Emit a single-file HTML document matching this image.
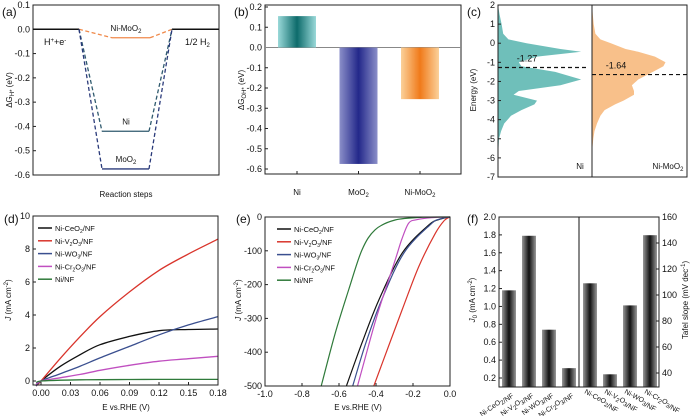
<!DOCTYPE html>
<html><head><meta charset="utf-8">
<style>
html,body{margin:0;padding:0;background:#fff;}
svg{display:block;font-family:"Liberation Sans",sans-serif;}
text{fill:#111;}
</style></head>
<body>
<svg id="fig" width="693" height="416" viewBox="0 0 693 416" xmlns="http://www.w3.org/2000/svg">
<defs>
<linearGradient id="gTeal" x1="0" x2="1"><stop offset="0" stop-color="#9ad9d9"/><stop offset="0.5" stop-color="#0d6b6b"/><stop offset="1" stop-color="#9ad9d9"/></linearGradient>
<linearGradient id="gBlue" x1="0" x2="1"><stop offset="0" stop-color="#8b8fc9"/><stop offset="0.5" stop-color="#23288a"/><stop offset="1" stop-color="#8b8fc9"/></linearGradient>
<linearGradient id="gOrange" x1="0" x2="1"><stop offset="0" stop-color="#fbd19a"/><stop offset="0.5" stop-color="#f07a1a"/><stop offset="1" stop-color="#fbd19a"/></linearGradient>
<linearGradient id="gGray" x1="0" x2="1"><stop offset="0" stop-color="#999"/><stop offset="0.5" stop-color="#111"/><stop offset="1" stop-color="#999"/></linearGradient>
</defs>
</svg>
<script>
// ---------- data ----------
const aSpecies = ["Ni-MoO2","Ni","MoO2"];
const aValues = [-0.035,-0.42,-0.575];
const aTicks = [0.1,0.0,-0.1,-0.2,-0.3,-0.4,-0.5,-0.6];
const bCategories = ["Ni","MoO2","Ni-MoO2"];
const bValues = [0.155,-0.575,-0.255];
const bTicks = [0.2,0.1,0.0,-0.1,-0.2,-0.3,-0.4,-0.5,-0.6];
const cEnergy = [2,1.5,1,0.5,0.2,0,-0.3,-0.45,-0.7,-1.0,-1.2,-1.5,-1.9,-2.2,-2.5,-2.7,-3.0,-3.2,-3.5,-3.8,-4.2,-4.6,-5,-5.5,-6,-7];
const cNiDos = [0,3,7,10,20,55,120,160,75,40,45,110,160,120,40,30,75,70,45,25,12,6,2,1,0,0];
const cNiMoDos = [0,2,4,8,20,45,80,110,150,175,170,145,110,95,100,100,75,55,30,20,12,6,3,1,0,0];
const cCenters = [-1.27,-1.64];
const cTicks = [2,1,0,-1,-2,-3,-4,-5,-6,-7];
const dSeries = ["Ni-CeO2/NF","Ni-V2O3/NF","Ni-WO3/NF","Ni-Cr2O3/NF","Ni/NF"];
const dColors = ["#111","#d9342b","#3a4f8f","#c04fc0","#2f7a3a"];
const dX = [-0.005,0,0.02,0.04,0.06,0.09,0.12,0.15,0.18];
const dCeO = [-0.3,0,0.9,1.6,2.2,2.7,3.05,3.12,3.15];
const dV2O3 = [-0.3,0,1.4,2.7,3.9,5.4,6.7,7.7,8.6];
const dWO3 = [-0.3,0,0.45,0.9,1.4,2.1,2.8,3.4,3.9];
const dCr2O3 = [-0.2,0,0.2,0.4,0.65,0.95,1.2,1.35,1.5];
const dNi = [-0.1,0,0.05,0.07,0.08,0.09,0.1,0.1,0.1];
const dTicksX = [0.00,0.03,0.06,0.09,0.12,0.15,0.18];
const dTicksY = [0,2,4,6,8,10];
const eCeOX = [0,-0.05,-0.115,-0.259,-0.385,-0.476,-0.56];
const eCeOY = [0,-6,-24,-107,-246,-373,-500];
const eV2O3X = [0,-0.03,-0.079,-0.169,-0.259,-0.412];
const eV2O3Y = [0,-10,-48,-147,-275,-500];
const eWO3X = [0,-0.05,-0.105,-0.25,-0.37,-0.455,-0.526];
const eWO3Y = [0,-5,-22,-107,-246,-373,-500];
const eCr2O3X = [0,-0.1,-0.18,-0.223,-0.26,-0.296,-0.385,-0.44,-0.5];
const eCr2O3Y = [0,-2,-8,-18,-65,-127,-275,-380,-500];
const eNiX = [0,-0.15,-0.297,-0.405,-0.476,-0.548,-0.62,-0.696];
const eNiY = [0,-1,-9,-38,-98,-216,-343,-500];
const eTicksX = [-1.0,-0.8,-0.6,-0.4,-0.2,0.0];
const eTicksY = [0,-100,-200,-300,-400,-500];
const fLabels = ["Ni-CeO2/NF","Ni-V2O3/NF","Ni-WO3/NF","Ni-Cr2O3/NF"];
const fJ0 = [1.18,1.79,0.74,0.31];
const fTafel = [109,39,92,146];
const fTicksL = [0.2,0.4,0.6,0.8,1.0,1.2,1.4,1.6,1.8,2.0];
const fTicksR = [40,60,80,100,120,140,160];

// ---------- helpers ----------
const svg=document.getElementById('fig');
const NS="http://www.w3.org/2000/svg";
function el(tag,attrs,parent){const e=document.createElementNS(NS,tag);for(const k in attrs)e.setAttribute(k,attrs[k]);(parent||svg).appendChild(e);return e;}
function txt(s,x,y,opt,parent){opt=opt||{};const t=el('text',{x:x,y:y,'font-size':opt.fs||9,'text-anchor':opt.a||'middle'},parent);if(opt.rot)t.setAttribute('transform','rotate('+opt.rot+' '+x+' '+y+')');t.innerHTML=s;return t;}
function lin(d0,d1,r0,r1){return v=>r0+(v-d0)*(r1-r0)/(d1-d0);}
function fmt(v,n){return v.toFixed(n);}
function sub(s){return s.replace(/O(\d)/g,'O<tspan font-size="6" dy="2">$1</tspan><tspan dy="-2"></tspan>').replace(/([VC]r?)(\d)O/g,'$1<tspan font-size="6" dy="2">$2</tspan><tspan dy="-2">O</tspan>');}
function box(x0,y0,x1,y1,g){el('rect',{x:x0,y:y0,width:x1-x0,height:y1-y0,fill:'none',stroke:'#222','stroke-width':1},g);}
function yAxis(g,ticks,sy,x,dec,right){ticks.forEach(t=>{const y=sy(t);el('line',{x1:x,x2:right?x-3:x+3,y1:y,y2:y,stroke:'#222'},g);txt(fmt(t,dec),right?x+3:x-3,y+3,{a:right?'start':'end'},g);});}
function xAxis(g,ticks,sx,y,dec){ticks.forEach(t=>{const x=sx(t);el('line',{x1:x,x2:x,y1:y,y2:y-3,stroke:'#222'},g);txt(fmt(t,dec),x,y+11,{},g);});}
function linePath(xs,ys,sx,sy){let d='';xs.forEach((x,i)=>{if(ys[i]===null)return;d+=(d?'L':'M')+sx(x).toFixed(1)+','+sy(ys[i]).toFixed(1);});return d;}
function smoothPath(xs,ys,sx,sy){const P=xs.map((x,i)=>[sx(x),sy(ys[i])]);let d='M'+P[0][0].toFixed(1)+','+P[0][1].toFixed(1);
 for(let i=0;i<P.length-1;i++){const p0=P[Math.max(0,i-1)],p1=P[i],p2=P[i+1],p3=P[Math.min(P.length-1,i+2)];
 const c1=[p1[0]+(p2[0]-p0[0])/6,p1[1]+(p2[1]-p0[1])/6],c2=[p2[0]-(p3[0]-p1[0])/6,p2[1]-(p3[1]-p1[1])/6];
 d+='C'+c1.map(v=>v.toFixed(1))+' '+c2.map(v=>v.toFixed(1))+' '+p2.map(v=>v.toFixed(1));}return d;}

// ---------- (a) ----------
{const g=el('g',{});
const sy=lin(0.1,-0.6,5,175);const X0=33,X1=219;
box(X0,sy(0.1),X1,sy(-0.6),g);
yAxis(g,aTicks,sy,X0,1);
txt('(a)',2,16,{a:'start',fs:12},g);
txt('ΔG<tspan font-size="6" dy="2">H*</tspan><tspan dy="-2"> (eV)</tspan>',12,90,{rot:-90,fs:8},g);
txt('Reaction steps',126,197,{fs:8},g);
el('line',{x1:X0,x2:79,y1:sy(0),y2:sy(0),stroke:'#111','stroke-width':1.5},g);
el('line',{x1:172,x2:X1,y1:sy(0),y2:sy(0),stroke:'#111','stroke-width':1.5},g);
txt('H<tspan font-size="6" dy="-3">+</tspan><tspan dy="3">+e</tspan><tspan font-size="6" dy="-3">-</tspan>',44,45,{a:'start',fs:9},g);
txt('1/2 H<tspan font-size="6" dy="2">2</tspan>',185,45,{a:'start',fs:9},g);
const cols=['#f08a4b','#2f5a6e','#2a3a7a'];
aValues.forEach((v,i)=>{const y=sy(v);const xl=i===0?112:102,xr=i===0?150:149;
 const l=el('line',{x1:xl,x2:xr,y1:y,y2:y,stroke:cols[i],'stroke-width':1.3},g);
 el('path',{d:'M79,'+sy(0)+'L'+xl+','+y+'M'+xr+','+y+'L172,'+sy(0),fill:'none',stroke:cols[i],'stroke-width':1.3,'stroke-dasharray':'4,2.5'},g);
 txt(sub(aSpecies[i]),126,y-7,{fs:8},g);});
}

// ---------- (b) ----------
{const g=el('g',{});
const sy=lin(0.2,-0.6,7,169);const X0=265,X1=461;
box(X0,5,X1,174,g);yAxis(g,bTicks,sy,X0,1);
txt('(b)',234,16,{a:'start',fs:12},g);
txt('ΔG<tspan font-size="6" dy="2">OH*</tspan><tspan dy="-2"> (eV)</tspan>',244,90,{rot:-90,fs:8},g);
el('line',{x1:X0,x2:X1,y1:sy(0),y2:sy(0),stroke:'#888'},g);
const fills=['url(#gTeal)','url(#gBlue)','url(#gOrange)'];
const sx=i=>297+i*61.5;
bValues.forEach((v,i)=>{const y0=sy(0),y1=sy(v);const r=el('rect',{x:sx(i)-19,y:Math.min(y0,y1),width:38,height:Math.abs(y1-y0),fill:fills[i]},g);
 
 el('line',{x1:sx(i),x2:sx(i),y1:174,y2:171,stroke:'#222'},g);
 txt(sub(bCategories[i]),sx(i),195,{fs:8},g);});
}

// ---------- (c) ----------
{const g=el('g',{});
const sy=lin(2,-7,5,177);const X0=498,XM=592,X1=687;
txt('(c)',467,16,{a:'start',fs:12},g);
txt('Energy (eV)',476,90,{rot:-90,fs:8},g);
const sl=d=>X0+d*0.52, sr=d=>XM+d*0.42;
function area(xs,fx,col,x0){let d='M'+x0+','+sy(cEnergy[0]);cEnergy.forEach((e,i)=>{d+='L'+fx(xs[i]).toFixed(1)+','+sy(e).toFixed(1);});d+='L'+x0+','+sy(-7)+'Z';return el('path',{d:d,fill:col,stroke:'none'},g);}
const a1=area(cNiDos,sl,'#6fbfba',X0);
const a2=area(cNiMoDos,sr,'#f8c08a',XM);
box(X0,5,X1,177,g);el('line',{x1:XM,x2:XM,y1:5,y2:177,stroke:'#222'},g);
yAxis(g,cTicks,sy,X0,0);
el('line',{x1:X0,x2:589,y1:sy(cCenters[0]),y2:sy(cCenters[0]),stroke:'#111','stroke-dasharray':'4,3','stroke-width':1.2},g);
el('line',{x1:XM,x2:X1,y1:sy(cCenters[1]),y2:sy(cCenters[1]),stroke:'#111','stroke-dasharray':'4,3','stroke-width':1.2},g);
txt(cCenters[0].toFixed(2),527,sy(cCenters[0])-6,{fs:9},g);
txt(cCenters[1].toFixed(2),616,sy(cCenters[1])-6,{fs:9},g);
txt('Ni',580,169,{fs:8},g);txt('Ni-MoO<tspan font-size="6" dy="2">2</tspan>',668,169,{fs:8},g);
}

// ---------- (d) ----------
const legendSub=['Ni-CeO<tspan font-size="5" dy="2">2</tspan><tspan dy="-2">/NF</tspan>','Ni-V<tspan font-size="5" dy="2">2</tspan><tspan dy="-2">O</tspan><tspan font-size="5" dy="2">3</tspan><tspan dy="-2">/NF</tspan>','Ni-WO<tspan font-size="5" dy="2">3</tspan><tspan dy="-2">/NF</tspan>','Ni-Cr<tspan font-size="5" dy="2">2</tspan><tspan dy="-2">O</tspan><tspan font-size="5" dy="2">3</tspan><tspan dy="-2">/NF</tspan>','Ni/NF'];
function legend(g,x,y){dSeries.forEach((s,i)=>{const yy=y+i*12.8;el('line',{x1:x,x2:x+14,y1:yy,y2:yy,stroke:dColors[i],'stroke-width':1.5},g);txt(legendSub[i],x+17,yy+3,{a:'start',fs:7.5},g);});}
{const g=el('g',{});
const sx=lin(0,0.18,41,218),sy=lin(0,10,381,216);
txt('(d)',4,223,{a:'start',fs:12},g);
txt('<tspan font-style="italic">J</tspan> (mA cm<tspan font-size="6" dy="-3">-2</tspan><tspan dy="3">)</tspan>',11,300,{rot:-90,fs:8},g);
txt('E vs.RHE (V)',126,410,{fs:8},g);
[dCeO,dV2O3,dWO3,dCr2O3,dNi].forEach((ys,i)=>{const p=el('path',{d:smoothPath(dX,ys,sx,sy),fill:'none',stroke:dColors[i],'stroke-width':1.3},g);});
el('rect',{x:218,y:210,width:4,height:180,fill:'#fff'},g);
box(33,216,218,385,g);yAxis(g,dTicksY,sy,33,0);xAxis(g,dTicksX,sx,385,2);
legend(g,38,228);
}

// ---------- (e) ----------
{const g=el('g',{});
const sx=lin(-1,0,265,450),sy=lin(0,-500,217,386);
txt('(e)',236,223,{a:'start',fs:12},g);
txt('<tspan font-style="italic">J</tspan> (mA cm<tspan font-size="6" dy="-3">-2</tspan><tspan dy="3">)</tspan>',241,300,{rot:-90,fs:8},g);
txt('E vs.RHE (V)',358,410,{fs:8},g);
[[eCeOX,eCeOY],[eV2O3X,eV2O3Y],[eWO3X,eWO3Y],[eCr2O3X,eCr2O3Y],[eNiX,eNiY]].forEach((s,i)=>{const p=el('path',{d:smoothPath(s[0],s[1],sx,sy),fill:'none',stroke:dColors[i],'stroke-width':1.2},g);});
box(265,217,450,386,g);yAxis(g,eTicksY,sy,265,0);xAxis(g,eTicksX,sx,386,1);
legend(g,277,229);
}

// ---------- (f) ----------
{const g=el('g',{});
const syL=lin(0.2,2.0,378,217),syR=lin(40,160,373,217);
const X0=499,X1=659,XD=579,YB=387;
txt('(f)',467,223,{a:'start',fs:12},g);
txt('<tspan font-style="italic">J</tspan><tspan font-size="6" dy="2">0</tspan><tspan dy="-2"> (mA cm</tspan><tspan font-size="6" dy="-3">-2</tspan><tspan dy="3">)</tspan>',475,300,{rot:-90,fs:8},g);
txt('Tafel slope (mV dec<tspan font-size="6" dy="-3">-1</tspan><tspan dy="3">)</tspan>',688,300,{rot:-90,fs:8},g);
fJ0.forEach((v,i)=>{const x=509+i*20;const r=el('rect',{x:x-7,y:syL(v),width:14,height:YB-syL(v),fill:'url(#gGray)'},g);
 txt(sub(fLabels[i]),x+4,YB+8,{a:'end',fs:7,rot:-35},g);});
fTafel.forEach((v,i)=>{const x=590+i*20;const r=el('rect',{x:x-7,y:syR(v),width:14,height:YB-syR(v),fill:'url(#gGray)'},g);
 txt(sub(fLabels[i]),x-6,YB+6,{a:'start',fs:7,rot:28},g);});
box(X0,217,X1,YB,g);el('line',{x1:XD,x2:XD,y1:217,y2:YB,stroke:'#111'},g);
yAxis(g,fTicksL,syL,X0,1);yAxis(g,fTicksR,syR,X1,0,true);
}
</script>
</body></html>
